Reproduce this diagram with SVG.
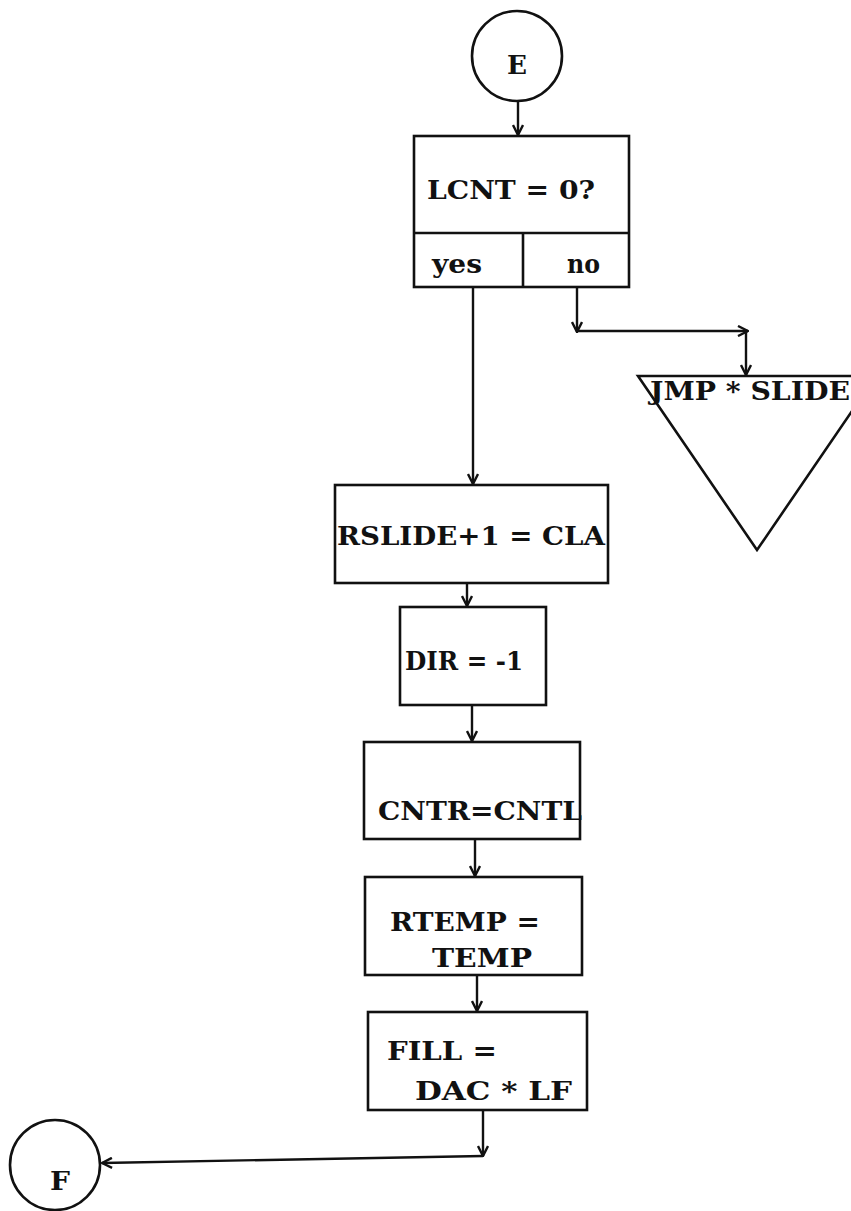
<svg xmlns="http://www.w3.org/2000/svg" width="851" height="1211" viewBox="0 0 851 1211">
<defs>
<marker id="ah" viewBox="0 0 12 12" refX="11" refY="6" markerWidth="12" markerHeight="12" markerUnits="userSpaceOnUse" orient="auto">
<path d="M1,1 L11,6 L1,11" fill="none" stroke="#111" stroke-width="2.4"/>
</marker>
<style>
.b{fill:none;stroke:#111;stroke-width:2.6}
.c{fill:none;stroke:#111;stroke-width:2.4;marker-end:url(#ah)}
text{font-family:"DejaVu Serif","Liberation Serif",serif;font-weight:bold;fill:#111;font-size:26px}
</style>
</defs>
<rect width="851" height="1211" fill="#fff"/>
<g id="nodeE">
<circle class="b" cx="517" cy="56" r="45" stroke-width="2"/>
<text x="507" y="74" textLength="20" lengthAdjust="spacingAndGlyphs">E</text>
</g>
<g id="decision">
<rect class="b" x="414" y="136" width="215" height="151"/>
<line class="b" x1="414" y1="233" x2="629" y2="233"/>
<line class="b" x1="523" y1="233" x2="523" y2="287"/>
<text x="427" y="199" textLength="168" lengthAdjust="spacingAndGlyphs">LCNT = 0?</text>
<text x="432" y="273" textLength="50" lengthAdjust="spacingAndGlyphs">yes</text>
<text x="567" y="273" textLength="33" lengthAdjust="spacingAndGlyphs">no</text>
</g>
<g id="jmp">
<polygon class="b" points="638,376 757,550 876,376"/>
<text x="650" y="400" textLength="200" lengthAdjust="spacingAndGlyphs">JMP * SLIDE</text>
</g>
<g id="rslide">
<rect class="b" x="335" y="485" width="273" height="98"/>
<text x="337" y="545" textLength="268" lengthAdjust="spacingAndGlyphs">RSLIDE+1 = CLA</text>
</g>
<g id="dir">
<rect class="b" x="400" y="607" width="146" height="98"/>
<text x="405" y="670" textLength="118" lengthAdjust="spacingAndGlyphs">DIR = -1</text>
</g>
<g id="cntr">
<rect class="b" x="364" y="742" width="216" height="97"/>
<text x="378" y="820" textLength="204" lengthAdjust="spacingAndGlyphs">CNTR=CNTL</text>
</g>
<g id="rtemp">
<rect class="b" x="365" y="877" width="217" height="98"/>
<text x="390" y="931" textLength="150" lengthAdjust="spacingAndGlyphs">RTEMP =</text>
<text x="432" y="967" textLength="100" lengthAdjust="spacingAndGlyphs">TEMP</text>
</g>
<g id="fill">
<rect class="b" x="368" y="1012" width="219" height="98"/>
<text x="387" y="1060" textLength="110" lengthAdjust="spacingAndGlyphs">FILL =</text>
<text x="415" y="1100" textLength="157" lengthAdjust="spacingAndGlyphs">DAC * LF</text>
</g>
<g id="nodeF">
<circle class="b" cx="55" cy="1165" r="45" stroke-width="1.6"/>
<text x="50" y="1190" textLength="20" lengthAdjust="spacingAndGlyphs">F</text>
</g>
<g id="connectors">
<line class="c" x1="518" y1="101" x2="518" y2="135"/>
<line class="c" x1="473" y1="287" x2="473" y2="484"/>
<line class="c" x1="577" y1="287" x2="577" y2="332"/>
<line class="c" x1="577" y1="331" x2="748" y2="331"/>
<line class="c" x1="746" y1="331" x2="746" y2="375"/>
<line class="c" x1="467" y1="583" x2="467" y2="606"/>
<line class="c" x1="472" y1="705" x2="472" y2="741"/>
<line class="c" x1="475" y1="839" x2="475" y2="876"/>
<line class="c" x1="477" y1="975" x2="477" y2="1011"/>
<line class="c" x1="483" y1="1110" x2="483" y2="1156"/>
<line class="c" x1="483" y1="1156" x2="102" y2="1163"/>
</g>
</svg>
